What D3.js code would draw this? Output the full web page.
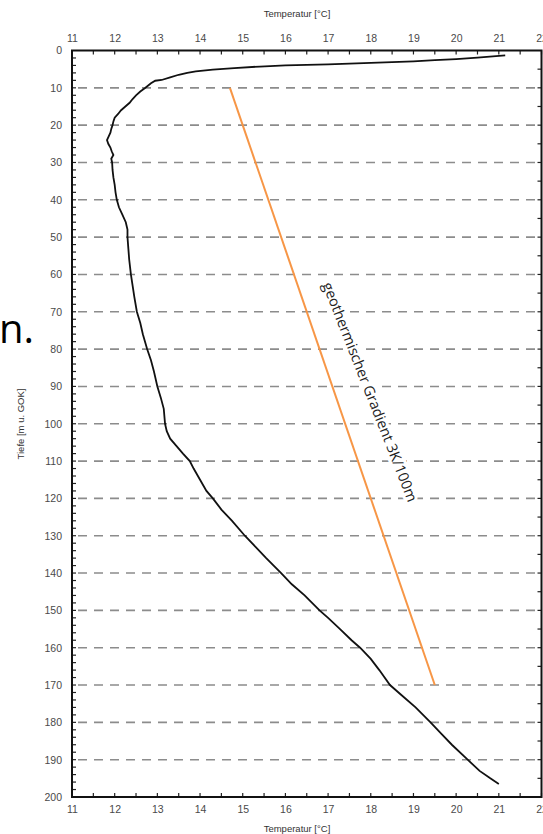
<!DOCTYPE html>
<html>
<head>
<meta charset="utf-8">
<script src="https://cdn.jsdelivr.net/npm/d3@7"></script>
<style>
  body { margin: 0; background: #fff; }
  svg { display: block; }
  .tick text { font-family: "Liberation Sans", Arial, sans-serif; font-size: 10.5px; fill: #4a4a4a; }
</style>
</head>
<body>
<svg id="chart" width="543" height="834"></svg>
<script>
// temperature profile: depth [m] and temperature [°C]
var depth = [1.3, 1.9, 2.3, 2.6, 2.9, 3.1, 3.3, 3.7, 4.0, 4.3, 4.7, 5.1, 5.6, 6.0, 6.5, 7.2, 7.9, 8.1, 8.8, 10,
  11, 12, 13, 14, 15, 16, 17, 18, 19, 20, 21, 22, 23, 24, 25, 26, 27, 28, 29, 30,
  32, 34, 36, 38, 40, 42, 44, 46, 48, 50, 53, 56, 60, 63, 66, 70, 73, 76, 80, 83, 86, 90,
  93, 96, 100, 102, 104, 106, 108, 110, 112, 115, 118, 120, 123, 126, 130, 133, 136, 140,
  143, 146, 150, 152, 155, 158, 160, 163, 166, 170, 173, 176, 180, 183, 186, 190, 193, 195, 196.5];
var temp = [21.15, 20.5, 20.0, 19.5, 19.0, 18.5, 18.0, 17.0, 16.0, 15.4, 14.8, 14.3, 13.9, 13.7, 13.5, 13.3, 13.1, 12.95, 12.85, 12.72,
  12.6, 12.5, 12.42, 12.35, 12.25, 12.15, 12.08, 12.0, 11.97, 11.95, 11.92, 11.9, 11.86, 11.82, 11.85, 11.9, 11.93, 11.97, 11.92, 11.94,
  11.95, 11.97, 12.0, 12.02, 12.05, 12.1, 12.18, 12.26, 12.3, 12.3, 12.32, 12.34, 12.38, 12.42, 12.46, 12.52, 12.6, 12.66, 12.76, 12.85, 12.92, 13.0,
  13.08, 13.15, 13.18, 13.22, 13.3, 13.45, 13.6, 13.76, 13.85, 14.0, 14.15, 14.3, 14.5, 14.75, 15.05, 15.3, 15.55, 15.9,
  16.15, 16.45, 16.8, 17.0, 17.28, 17.55, 17.75, 18.0, 18.2, 18.45, 18.75, 19.05, 19.4, 19.65, 19.9, 20.27, 20.55, 20.8, 21.0];

// linear gradient 3K/100m
var gradDepth = [10, 170];
var gradTemp = [14.7, 19.5];

var xTicks = d3.range(11, 23, 1);
var yTicks = d3.range(0, 201, 10);
var gridDepths = d3.range(10, 200, 10);

var svg = d3.select("#chart");

var x = d3.scaleLinear().domain([11, 22]).range([72, 541.5]);
var y = d3.scaleLinear().domain([0, 200]).range([50.5, 797]);

// dashed grid
svg.append("g")
  .selectAll("line")
  .data(gridDepths)
  .enter()
  .append("line")
  .attr("x1", x(11))
  .attr("x2", x(22))
  .attr("y1", d => y(d))
  .attr("y2", d => y(d))
  .style("stroke", "#8c8c8c")
  .style("stroke-width", 1.6)
  .style("stroke-dasharray", "9,7")
  .style("stroke-dashoffset", -6);

// minor ticks
var minorX = d3.range(11.5, 22, 1);
var minorY = d3.range(2, 200, 2);
var ticks = svg.append("g").style("stroke", "#222").style("stroke-width", 1.2);
ticks.selectAll("line.tx").data(xTicks.concat(minorX)).enter().append("line")
  .attr("x1", d => x(d)).attr("x2", d => x(d))
  .attr("y1", y(0)).attr("y2", y(0) + 4);
ticks.selectAll("line.bx").data(xTicks.concat(minorX)).enter().append("line")
  .attr("x1", d => x(d)).attr("x2", d => x(d))
  .attr("y1", y(200)).attr("y2", y(200) - 4);
ticks.selectAll("line.ly").data(minorY).enter().append("line")
  .attr("x1", x(11)).attr("x2", x(11) + 4)
  .attr("y1", d => y(d)).attr("y2", d => y(d));
ticks.selectAll("line.ry").data(d3.range(5, 200, 5)).enter().append("line")
  .attr("x1", x(22)).attr("x2", x(22) - 4)
  .attr("y1", d => y(d)).attr("y2", d => y(d));

// axes (labels only)
svg.append("g")
  .attr("transform", `translate(0, ${y(0)})`)
  .call(d3.axisTop(x).tickValues(xTicks).tickSize(0).tickPadding(9))
  .call(g => g.select(".domain").remove());

svg.append("g")
  .attr("transform", `translate(0, ${y(200)})`)
  .call(d3.axisBottom(x).tickValues(xTicks).tickSize(0).tickPadding(9))
  .call(g => g.select(".domain").remove());

svg.append("g")
  .attr("transform", `translate(${x(11)}, 0)`)
  .call(d3.axisLeft(y).tickValues(yTicks).tickSize(0).tickPadding(10))
  .call(g => g.select(".domain").remove());

// frame
svg.append("rect")
  .attr("x", x(11)).attr("y", y(0))
  .attr("width", x(22) - x(11)).attr("height", y(200) - y(0))
  .style("fill", "none").style("stroke", "#111").style("stroke-width", 2);

// rotated annotation (white halo hides the grid dashes behind it)
svg.append("text")
  .attr("transform", "translate(370, 392) rotate(68.5)")
  .attr("text-anchor", "middle")
  .attr("dy", "0.35em")
  .style("font-family", "Open Sans, Noto Sans, sans-serif")
  .style("font-size", "14.5px").style("fill", "#222")
  .style("stroke", "#fff").style("stroke-width", 6)
  .style("paint-order", "stroke")
  .text("geothermischer Gradient 3K/100m");

// gradient line
svg.append("line")
  .attr("x1", x(gradTemp[0])).attr("y1", y(gradDepth[0]))
  .attr("x2", x(gradTemp[1])).attr("y2", y(gradDepth[1]))
  .style("stroke", "#f79646")
  .style("stroke-width", 2);

// temperature profile
var line = d3.line()
  .x(d => x(d[1]))
  .y(d => y(d[0]));

svg.append("path")
  .datum(depth.map((d, i) => [d, temp[i]]))
  .attr("d", line)
  .style("fill", "none")
  .style("stroke", "#111")
  .style("stroke-width", 1.8);

// titles
svg.append("text")
  .attr("x", 297).attr("y", 17)
  .attr("text-anchor", "middle")
  .style("font-family", "Liberation Sans, Arial, sans-serif")
  .style("font-size", "9.5px").style("fill", "#333")
  .text("Temperatur [°C]");

svg.append("text")
  .attr("x", 297).attr("y", 832)
  .attr("text-anchor", "middle")
  .style("font-family", "Liberation Sans, Arial, sans-serif")
  .style("font-size", "9.5px").style("fill", "#333")
  .text("Temperatur [°C]");

svg.append("text")
  .attr("transform", "translate(24, 424) rotate(-90)")
  .attr("text-anchor", "middle")
  .style("font-family", "Liberation Sans, Arial, sans-serif")
  .style("font-size", "9.5px").style("fill", "#333")
  .text("Tiefe [m u. GOK]");

// leftover slide text
svg.append("text")
  .attr("x", -1).attr("y", 343)
  .style("font-family", "Open Sans, Noto Sans, sans-serif")
  .style("font-size", "40px").style("fill", "#000")
  .text("n.");
</script>
</body>
</html>
